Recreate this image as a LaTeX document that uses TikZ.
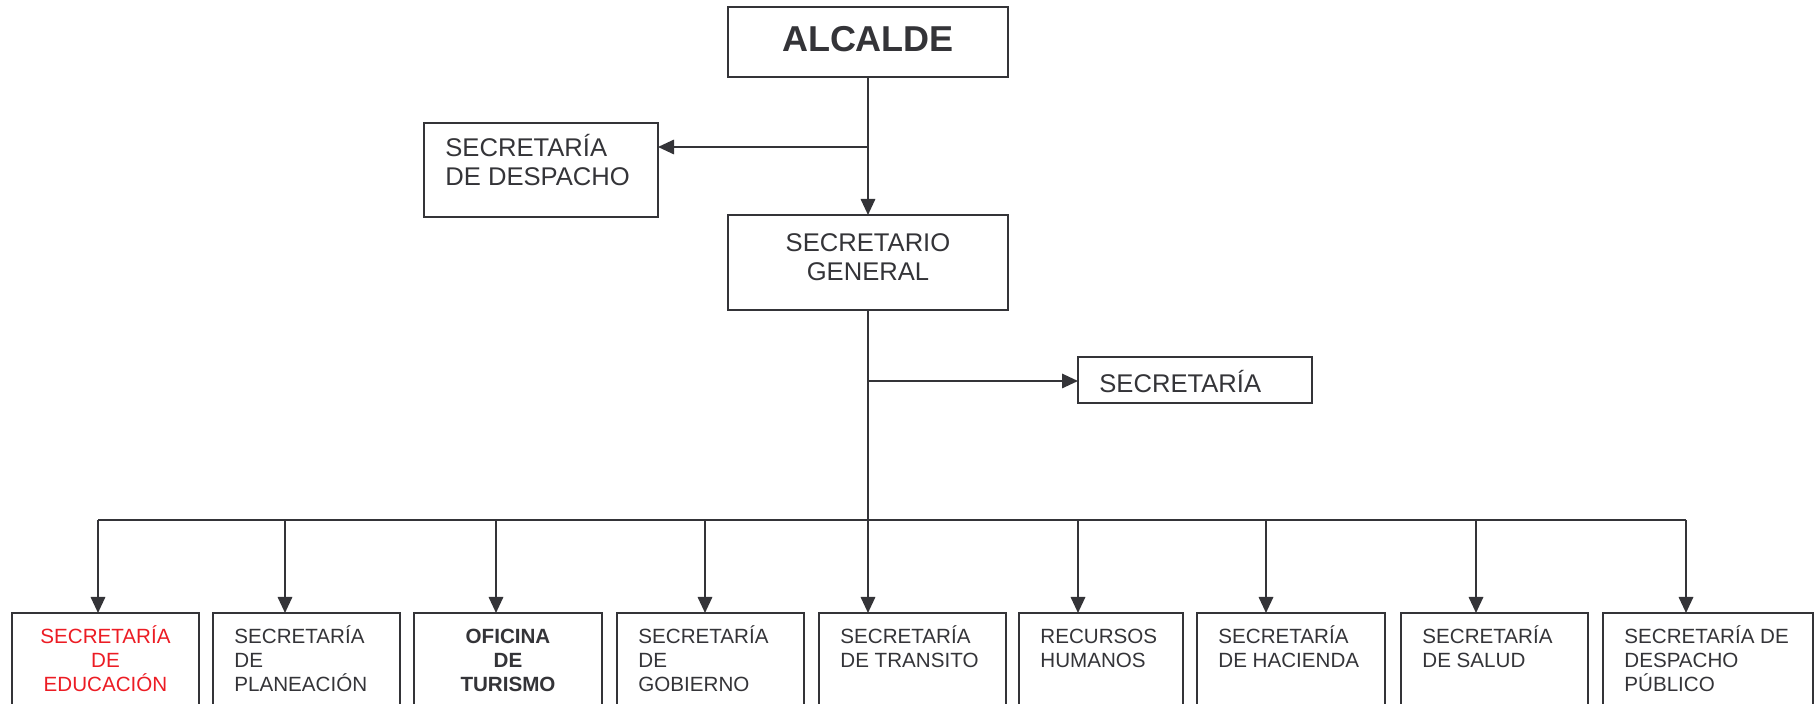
\documentclass[tikz,border=0pt]{standalone}
\usepackage{fontspec}
\setmainfont{Liberation Sans}
\usetikzlibrary{arrows.meta}
\definecolor{ink}{RGB}{52,52,56}
\definecolor{edured}{RGB}{236,28,36}

\begin{document}
\begin{tikzpicture}[x=0.5pt,y=-0.5pt,
  box/.style={draw=ink, line width=1.1pt, rectangle, inner sep=0pt, outer sep=0pt, anchor=north west},
  conn/.style={draw=ink, line width=1pt},
  arr/.style={conn, -{Triangle[length=8pt,width=7.2pt]}},
  toptxt/.style={text=ink, font=\fontsize{12.8}{14.3}\selectfont, inner sep=0pt},
  lowtxt/.style={text=ink, font=\fontsize{10.3}{11.8}\selectfont, inner sep=0pt},
  lowleft/.style={lowtxt, anchor=base west, text width=90pt, align=flush left},
]
\useasboundingbox (0,0) rectangle (1816,704);

% --- upper levels ---
\node[box, minimum width=140pt, minimum height=35pt] (alc) at (728,7) {};
\node[text=ink, inner sep=0pt, anchor=base, font=\bfseries\fontsize{18}{20}\selectfont] (alct) at (868,52) {ALCALDE};

\node[box, minimum width=117pt, minimum height=47pt] (desp) at (424,123) {};
\node[toptxt, anchor=base west, text width=100pt, align=flush left] (despt) at (445,157) {SECRETARÍA\\DE DESPACHO};

\node[box, minimum width=140pt, minimum height=47.5pt] (sg) at (728,215) {};
\node[toptxt, anchor=base, text width=140pt, align=center] (sgt) at (868,252) {SECRETARIO\\GENERAL};

\node[box, minimum width=117pt, minimum height=23pt] (sec) at (1078,357) {};
\node[toptxt, anchor=base west, text width=100pt, align=flush left] (sect) at (1099,393) {SECRETARÍA};

% --- lower level ---
\node[box, minimum width=93.5pt, minimum height=65pt] (b1) at (12,613) {};
\node[box, minimum width=93.5pt, minimum height=65pt] (b2) at (213,613) {};
\node[box, minimum width=94pt,   minimum height=65pt] (b3) at (414,613) {};
\node[box, minimum width=93.5pt, minimum height=65pt] (b4) at (617,613) {};
\node[box, minimum width=93.5pt, minimum height=65pt] (b5) at (819,613) {};
\node[box, minimum width=82pt,   minimum height=65pt] (b6) at (1019,613) {};
\node[box, minimum width=94pt,   minimum height=65pt] (b7) at (1197,613) {};
\node[box, minimum width=93.5pt, minimum height=65pt] (b8) at (1401,613) {};
\node[box, minimum width=105pt,  minimum height=65pt] (b9) at (1603,613) {};

\node[lowtxt, text=edured, anchor=base, text width=93.5pt, align=center] (t1) at (105.5,644) {SECRETARÍA\\DE\\EDUCACIÓN};
\node[lowleft] (t2) at (234,644) {SECRETARÍA\\DE\\PLANEACIÓN};
\node[lowtxt, font=\bfseries\fontsize{10.3}{11.8}\selectfont, anchor=base, text width=94pt, align=center] (t3) at (508,644) {OFICINA\\DE\\TURISMO};
\node[lowleft] (t4) at (638,644) {SECRETARÍA\\DE\\GOBIERNO};
\node[lowleft] (t5) at (840,644) {SECRETARÍA\\DE TRANSITO};
\node[lowleft] (t6) at (1040,644) {RECURSOS\\HUMANOS};
\node[lowleft] (t7) at (1218,644) {SECRETARÍA\\DE HACIENDA};
\node[lowleft] (t8) at (1422,644) {SECRETARÍA\\DE SALUD};
\node[lowleft] (t9) at (1624,644) {SECRETARÍA DE\\DESPACHO\\PÚBLICO};

% --- connectors ---
\coordinate (j1) at (868,147);
\coordinate (j2) at (868,381);
\coordinate (busL) at (98,520);
\coordinate (busR) at (1686,520);

\draw[arr] (alc.south) -- (sg.north);
\draw[arr] (j1) -- (j1 -| desp.east);
\draw[arr] (sg.south) -- (sg.south |- b5.north);
\draw[arr] (j2) -- (j2 -| sec.west);
\draw[conn] (busL) -- (busR);

\coordinate (d1) at (98,520);
\coordinate (d2) at (285,520);
\coordinate (d3) at (496,520);
\coordinate (d4) at (705,520);
\coordinate (d6) at (1078,520);
\coordinate (d7) at (1266,520);
\coordinate (d8) at (1476,520);
\coordinate (d9) at (1686,520);
\draw[arr] (d1) -- (d1 |- b1.north);
\draw[arr] (d2) -- (d2 |- b2.north);
\draw[arr] (d3) -- (d3 |- b3.north);
\draw[arr] (d4) -- (d4 |- b4.north);
\draw[arr] (d6) -- (d6 |- b6.north);
\draw[arr] (d7) -- (d7 |- b7.north);
\draw[arr] (d8) -- (d8 |- b8.north);
\draw[arr] (d9) -- (d9 |- b9.north);
\end{tikzpicture}
\end{document}
